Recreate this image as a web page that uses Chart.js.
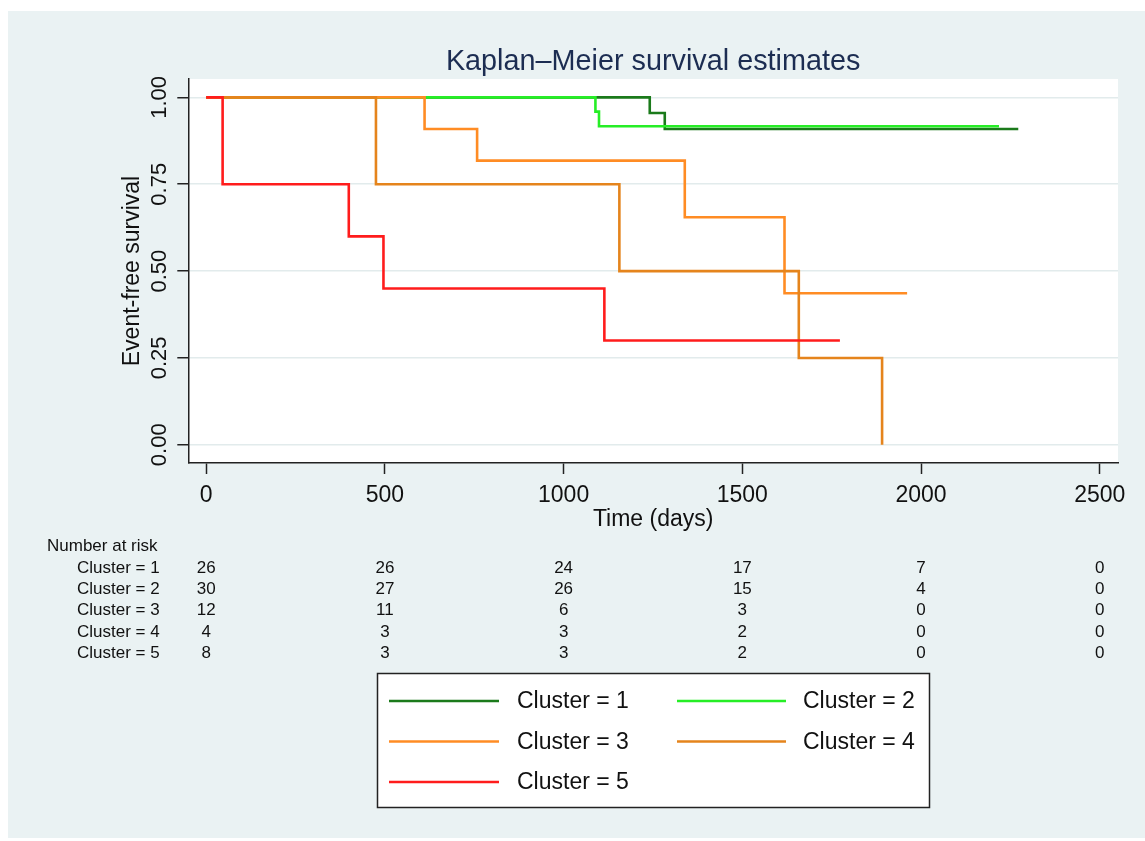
<!DOCTYPE html>
<html><head><meta charset="utf-8">
<script src="https://cdn.jsdelivr.net/npm/chart.js@4/dist/chart.umd.min.js"></script>
<style>html,body{margin:0;padding:0;background:#fff}#wrap{position:relative;width:1145px;height:841px}</style>
</head><body><div id="wrap"><canvas id="c" width="1145" height="841"></canvas></div>
<script>
const chartTitle = 'Kaplan–Meier survival estimates';
const xAxisTitle = 'Time (days)';
const yAxisTitle = 'Event-free survival';
const clusterNames = ['Cluster = 1', 'Cluster = 2', 'Cluster = 3', 'Cluster = 4', 'Cluster = 5'];
const clusterColors = ['#1b7a1b', '#26ee26', '#ff8c24', '#e5841c', '#ff1c1c'];

// Kaplan–Meier step points (time in days, survival)
const c1Time = [0, 1241, 1283, 2272];
const c1Surv = [1, 0.955, 0.909, 0.909];
const c2Time = [0, 1089, 1099, 2218];
const c2Surv = [1, 0.959, 0.917, 0.917];
const c3Time = [0, 611, 758, 1339, 1618, 1961];
const c3Surv = [1, 0.909, 0.818, 0.655, 0.436, 0.436];
const c4Time = [0, 475, 1156, 1658, 1891];
const c4Surv = [1, 0.75, 0.5, 0.25, 0];
const c5Time = [0, 46, 399, 496, 1114, 1773];
const c5Surv = [1, 0.75, 0.6, 0.45, 0.3, 0.3];

const xTickValues = [0, 500, 1000, 1500, 2000, 2500];
const yTickValues = [0, 0.25, 0.5, 0.75, 1];

// Number at risk table
const riskTitle = 'Number at risk';
const riskTimes = [0, 500, 1000, 1500, 2000, 2500];
const risk1 = [26, 26, 24, 17, 7, 0];
const risk2 = [30, 27, 26, 15, 4, 0];
const risk3 = [12, 11, 6, 3, 0, 0];
const risk4 = [4, 3, 3, 2, 0, 0];
const risk5 = [8, 3, 3, 2, 0, 0];

const FONT = "'Liberation Sans', Arial, sans-serif";
const allTimes = [c1Time, c2Time, c3Time, c4Time, c5Time];
const allSurv = [c1Surv, c2Surv, c3Surv, c4Surv, c5Surv];
const allRisk = [risk1, risk2, risk3, risk4, risk5];
const drawOrder = [4, 3, 2, 1, 0];

const datasets = clusterNames.map((name, i) => ({
  label: name,
  data: allTimes[i].map((t, j) => ({ x: t, y: allSurv[i][j] })),
  borderColor: clusterColors[i],
  backgroundColor: clusterColors[i],
  borderWidth: 2.6,
  stepped: true,
  pointRadius: 0,
  fill: false,
  order: drawOrder[i]
}));

const decor = {
  id: 'decor',
  beforeDraw(chart) {
    const ctx = chart.ctx, a = chart.chartArea;
    ctx.save();
    ctx.fillStyle = '#ffffff';
    ctx.fillRect(0, 0, chart.width, chart.height);
    ctx.fillStyle = '#eaf2f3';
    ctx.fillRect(8, 11, chart.width - 8, 827);
    ctx.fillStyle = '#ffffff';
    ctx.fillRect(a.left, a.top, a.right - a.left, a.bottom - a.top);
    ctx.restore();
  },
  afterDraw(chart) {
    const ctx = chart.ctx, a = chart.chartArea, xs = chart.scales.x;
    ctx.save();
    // title
    ctx.fillStyle = '#1c2d52';
    ctx.font = '28.8px ' + FONT;
    ctx.textAlign = 'center';
    ctx.textBaseline = 'alphabetic';
    ctx.fillText(chartTitle, (a.left + a.right) / 2, 70);
    // risk table
    ctx.fillStyle = '#111111';
    ctx.font = '17px ' + FONT;
    ctx.textBaseline = 'middle';
    ctx.textAlign = 'left';
    ctx.fillText(riskTitle, 47, 546.5);
    for (let i = 0; i < clusterNames.length; i++) {
      const y = 568 + i * 21.4;
      ctx.textAlign = 'left';
      ctx.fillText(clusterNames[i], 77, y);
      ctx.textAlign = 'center';
      riskTimes.forEach((t, j) => ctx.fillText(String(allRisk[i][j]), xs.getPixelForValue(t), y));
    }
    // legend box
    ctx.fillStyle = '#ffffff';
    ctx.fillRect(377.5, 673.5, 552, 134);
    ctx.strokeStyle = '#222222';
    ctx.lineWidth = 1.5;
    ctx.strokeRect(377.5, 673.5, 552, 134);
    const colLine = [[389, 499], [677, 786]];
    const colText = [517, 803];
    const rowY = [701, 741.5, 782];
    ctx.font = '23px ' + FONT;
    ctx.textAlign = 'left';
    ctx.textBaseline = 'middle';
    clusterNames.forEach((name, i) => {
      const r = Math.floor(i / 2), c = i % 2;
      ctx.strokeStyle = clusterColors[i];
      ctx.lineWidth = 2.6;
      ctx.beginPath();
      ctx.moveTo(colLine[c][0], rowY[r]);
      ctx.lineTo(colLine[c][1], rowY[r]);
      ctx.stroke();
      ctx.fillStyle = '#111111';
      ctx.fillText(name, colText[c], rowY[r] + 1);
    });
    ctx.restore();
  }
};

new Chart(document.getElementById('c'), {
  type: 'line',
  data: { datasets },
  plugins: [decor],
  options: {
    responsive: false,
    animation: false,
    devicePixelRatio: 1,
    layout: { padding: { left: 100, right: 27, top: 79, bottom: 308 } },
    plugins: { legend: { display: false }, tooltip: { enabled: false }, title: { display: false } },
    scales: {
      x: {
        type: 'linear',
        min: -50, max: 2551,
        afterBuildTicks: s => { s.ticks = xTickValues.map(v => ({ value: v })); },
        afterFit: s => { s.height = 70; },
        grid: { drawOnChartArea: false, drawTicks: true, tickLength: 11, tickColor: '#222222', tickWidth: 1.5 },
        border: { color: '#222222', width: 1.5 },
        ticks: { font: { family: FONT, size: 23 }, color: '#111111', padding: 8, maxRotation: 0, autoSkip: false, callback: v => String(v) },
        title: { display: true, text: xAxisTitle, font: { family: FONT, size: 23 }, color: '#111111', padding: { top: 0, bottom: 0 } }
      },
      y: {
        type: 'linear',
        min: -0.0525, max: 1.053,
        afterBuildTicks: s => { s.ticks = yTickValues.map(v => ({ value: v })); },
        afterFit: s => { s.width = 88.3; },
        grid: { color: '#e2ebec', lineWidth: 1.5, drawTicks: true, tickLength: 11, tickColor: '#222222', tickWidth: 1.5 },
        border: { color: '#222222', width: 1.5 },
        ticks: { font: { family: FONT, size: 22 }, color: '#111111', padding: -4, minRotation: 90, maxRotation: 90, crossAlign: 'center', autoSkip: false, callback: v => Number(v).toFixed(2) },
        title: { display: true, text: yAxisTitle, font: { family: FONT, size: 23 }, color: '#111111', padding: { top: 19, bottom: 0 } }
      }
    }
  }
});
</script></body></html>
